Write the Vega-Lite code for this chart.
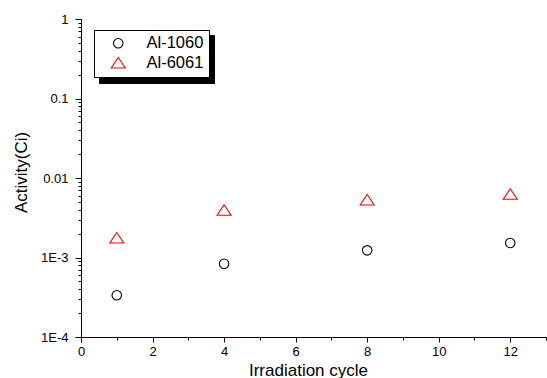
{
  "$schema": "https://vega.github.io/schema/vega-lite/v6.json",
  "autosize": {"type": "none"},
  "padding": {"left": 81, "top": 19, "right": 1, "bottom": 41},
  "width": 465,
  "height": 318,
  "background": "white",
  "config": {
    "view": {"stroke": null},
    "font": "Liberation Sans",
    "axis": {
      "labelFont": "Liberation Sans",
      "titleFont": "Liberation Sans",
      "labelColor": "#000000",
      "titleColor": "#000000",
      "domainColor": "#000000",
      "tickColor": "#000000",
      "domainWidth": 1,
      "tickWidth": 1,
      "grid": false,
      "titleFontWeight": "normal",
      "labelFlush": false,
      "labelOverlap": false
    },
    "legend": {"labelFont": "Liberation Sans"}
  },
  "data": {
    "values": [
      {"cycle": 1, "activity": 0.000335, "series": "Al-1060"},
      {"cycle": 4, "activity": 0.000835, "series": "Al-1060"},
      {"cycle": 8, "activity": 0.00123, "series": "Al-1060"},
      {"cycle": 12, "activity": 0.00152, "series": "Al-1060"},
      {"cycle": 1, "activity": 0.00177, "series": "Al-6061"},
      {"cycle": 4, "activity": 0.00396, "series": "Al-6061"},
      {"cycle": 8, "activity": 0.00533, "series": "Al-6061"},
      {"cycle": 12, "activity": 0.0063, "series": "Al-6061"}
    ]
  },
  "resolve": {"axis": {"x": "independent", "y": "independent"}},
  "layer": [
    {
      "transform": [{"filter": "false"}],
      "mark": {"type": "point", "filled": true},
      "encoding": {
        "x": {
          "field": "cycle",
          "type": "quantitative",
          "axis": {
            "orient": "bottom",
            "title": null,
            "labels": false,
            "domain": false,
            "tickSize": 3,
            "tickCount": 100,
            "values": [1, 3, 5, 7, 9, 11, 13]
          }
        },
        "y": {
          "field": "activity",
          "type": "quantitative",
          "axis": {
            "orient": "left",
            "title": null,
            "labels": false,
            "domain": false,
            "tickSize": 3,
            "tickCount": 100,
            "values": [0.0002, 0.0003, 0.0004, 0.0005, 0.0006, 0.0007, 0.0008, 0.0009, 0.002, 0.003, 0.004, 0.005, 0.006, 0.007, 0.008, 0.009, 0.02, 0.03, 0.04, 0.05, 0.06, 0.07, 0.08, 0.09, 0.2, 0.3, 0.4, 0.5, 0.6, 0.7, 0.8, 0.9]
          }
        },
        "opacity": {
          "field": "series",
          "type": "nominal",
          "scale": {"domain": ["s1", "s2"], "range": [1, 1]},
          "legend": {
            "title": null,
            "orient": "none",
            "direction": "vertical",
            "legendX": 18,
            "legendY": 16,
            "fillColor": "#000000",
            "strokeColor": "#000000",
            "padding": 5,
            "symbolType": "circle",
            "symbolSize": 196,
            "symbolFillColor": "#000000",
            "symbolStrokeColor": "#000000",
            "symbolOffset": 11,
            "labelOffset": 77,
            "labelFontSize": 16.5,
            "labelColor": "#000000",
            "rowPadding": -2.5,
            "labelExpr": "' '",
            "zindex": 0
          }
        }
      }
    },
    {
      "mark": {"type": "point", "filled": false, "strokeWidth": 1.1, "opacity": 1},
      "encoding": {
        "x": {
          "field": "cycle",
          "type": "quantitative",
          "scale": {"domain": [0, 13], "nice": false, "zero": false},
          "axis": {
            "orient": "bottom",
            "title": "Irradiation cycle",
            "titleFontSize": 17,
            "titleX": 227,
            "titleY": 38,
            "titleBaseline": "alphabetic",
            "labelFontSize": 13,
            "labelPadding": 3,
            "tickSize": 5,
            "tickCount": 100,
            "format": "d",
            "values": [0, 2, 4, 6, 8, 10, 12]
          }
        },
        "y": {
          "field": "activity",
          "type": "quantitative",
          "scale": {"type": "log", "domain": [0.0001, 1], "nice": false},
          "axis": {
            "orient": "left",
            "title": "Activity(Ci)",
            "titleFontSize": 17,
            "titleX": -60,
            "titleY": 153,
            "titleBaseline": "middle",
            "labelFontSize": 13,
            "labelPadding": 7,
            "tickSize": 6,
            "tickCount": 100,
            "values": [0.0001, 0.001, 0.01, 0.1, 1],
            "labelExpr": "datum.value == 1 ? '1' : datum.value == 0.1 ? '0.1' : datum.value == 0.01 ? '0.01' : datum.value == 0.001 ? '1E-3' : '1E-4'"
          }
        },
        "shape": {
          "field": "series",
          "type": "nominal",
          "scale": {"domain": ["Al-1060", "Al-6061"], "range": ["circle", "M0,-0.75L1,0.75L-1,0.75Z"]},
          "legend": {
            "title": null,
            "orient": "none",
            "direction": "vertical",
            "legendX": 13,
            "legendY": 11,
            "fillColor": "#ffffff",
            "strokeColor": "#000000",
            "padding": 5,
            "symbolOffset": 11,
            "labelOffset": 20,
            "labelFontSize": 16.5,
            "labelColor": "#000000",
            "rowPadding": 2.5,
            "symbolStrokeWidth": 1.1,
            "zindex": 1
          }
        },
        "color": {
          "field": "series",
          "type": "nominal",
          "scale": {"domain": ["Al-1060", "Al-6061"], "range": ["#000000", "#ff0000"]},
          "legend": {
            "title": null,
            "orient": "none",
            "direction": "vertical",
            "legendX": 13,
            "legendY": 11,
            "fillColor": "#ffffff",
            "strokeColor": "#000000",
            "padding": 5,
            "symbolOffset": 11,
            "labelOffset": 20,
            "labelFontSize": 16.5,
            "labelColor": "#000000",
            "rowPadding": 2.5,
            "symbolStrokeWidth": 1.1,
            "zindex": 1
          }
        },
        "size": {
          "field": "series",
          "type": "nominal",
          "scale": {"domain": ["Al-1060", "Al-6061"], "range": [90, 196]},
          "legend": {
            "title": null,
            "orient": "none",
            "direction": "vertical",
            "legendX": 13,
            "legendY": 11,
            "fillColor": "#ffffff",
            "strokeColor": "#000000",
            "padding": 5,
            "symbolOffset": 11,
            "labelOffset": 20,
            "labelFontSize": 16.5,
            "labelColor": "#000000",
            "rowPadding": 2.5,
            "symbolStrokeWidth": 1.1,
            "zindex": 1
          }
        }
      }
    }
  ]
}
